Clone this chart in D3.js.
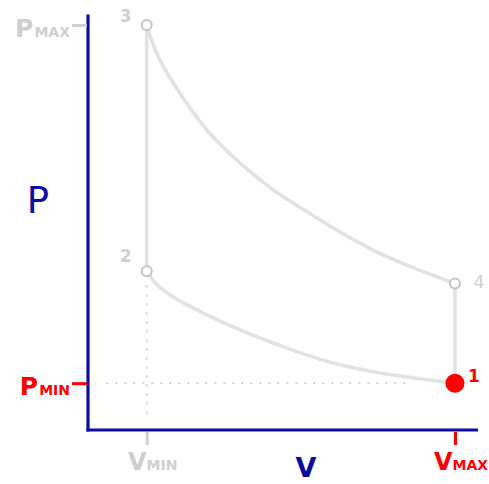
<!DOCTYPE html>
<html><head><meta charset="utf-8">
<script src="https://cdn.jsdelivr.net/npm/d3@7"></script>
<style>html,body{margin:0;padding:0;background:#fff;}svg{display:block;}</style>
</head><body>
<svg id="chart" width="489" height="484"></svg>
<script>
// ---- data (arbitrary units) ----
const vMin = 1.6, vMax = 10;
const pMin = 1.15, pMax = 9.95;
// state points 1..4
const stateIds = ["1", "2", "3", "4"];
const stateV = [10, 1.6, 1.6, 10];
const stateP = [1.15, 3.9, 9.95, 3.6];
// expansion curve 3 -> 4
const expV = [1.6, 1.87, 2.32, 3.24, 4.14, 5.04, 5.97, 6.87, 7.77, 8.69, 10];
const expP = [9.95, 9.26, 8.53, 7.37, 6.56, 5.90, 5.36, 4.86, 4.42, 4.05, 3.6];
// compression curve 2 -> 1
const cmpV = [1.6, 1.87, 2.32, 3.24, 4.14, 5.04, 5.97, 6.87, 7.77, 8.69, 10];
const cmpP = [3.9, 3.58, 3.27, 2.83, 2.46, 2.14, 1.84, 1.60, 1.43, 1.30, 1.15];
const pTickLabels = [["P", "MAX"], ["P", "MIN"]];
const vTickLabels = [["V", "MIN"], ["V", "MAX"]];
const axisTitles = ["P", "V"];

// ---- drawing ----
const svg = d3.select("#chart");
const x = d3.scaleLinear().domain([0, 10.6]).range([88, 477]);
const y = d3.scaleLinear().domain([0, 10.17]).range([430, 16]);

const blue = "#0c0ca3", red = "#ff0000", lgray = "#e2e2e2", tgray = "#cfcfcf";
const font = "'DejaVu Sans', Verdana, sans-serif";

// dotted guides
svg.append("line").attr("x1", x(0.5)).attr("x2", x(8.7)).attr("y1", y(pMin)).attr("y2", y(pMin))
  .attr("stroke", "#cfcfcf").attr("stroke-width", 2).attr("stroke-dasharray", "2,7");
svg.append("line").attr("x1", x(vMin)).attr("x2", x(vMin)).attr("y1", y(3.55)).attr("y2", y(0.25))
  .attr("stroke", "#cfcfcf").attr("stroke-width", 2).attr("stroke-dasharray", "2,7");

// cycle
const line = d3.line().x(d => x(d[0])).y(d => y(d[1])).curve(d3.curveCatmullRom.alpha(0.5));
const g = svg.append("g").attr("fill", "none").attr("stroke", lgray).attr("stroke-width", 3.6);
g.append("path").attr("d", line(d3.zip(expV, expP)));
g.append("path").attr("d", line(d3.zip(cmpV, cmpP)));
// isochoric segments 2-3 and 4-1
g.append("path").attr("d", d3.line()([[x(stateV[1]), y(stateP[1])], [x(stateV[2]), y(stateP[2])]]));
g.append("path").attr("d", d3.line()([[x(stateV[3]), y(stateP[3])], [x(stateV[0]), y(stateP[0])]]));

// axes
const yAxis = d3.axisLeft(y).tickValues([pMax, pMin]).tickSize(15).tickSizeOuter(0).tickFormat("");
const xAxis = d3.axisBottom(x).tickValues([vMin, vMax]).tickSize(14).tickSizeOuter(0).tickFormat("");
const ya = svg.append("g").attr("transform", "translate(88,0)").call(yAxis);
const xa = svg.append("g").attr("transform", "translate(0,430)").call(xAxis);
ya.select(".domain").attr("stroke", blue).attr("stroke-width", 3.2).attr("d", "M0,14.5V431.5");
xa.select(".domain").attr("stroke", blue).attr("stroke-width", 3.2).attr("d", "M86.5,0H478");
ya.selectAll(".tick line").attr("stroke", (d, i) => i === 0 ? tgray : red).attr("stroke-width", 3).attr("x2", -16).attr("x1", -1);
xa.selectAll(".tick line").attr("stroke", (d, i) => i === 0 ? tgray : red).attr("stroke-width", 3).attr("y1", 2).attr("y2", 15);

// tick labels
[pMax, pMin].forEach((p, i) => {
  const t = svg.append("text").attr("x", 70).attr("y", y(p) + 12).attr("text-anchor", "end")
    .attr("font-family", font).attr("font-weight", "bold")
    .attr("fill", i === 0 ? tgray : red);
  t.append("tspan").attr("font-size", 25).text(pTickLabels[i][0]);
  t.append("tspan").attr("font-size", 14).attr("dx", 1).text(pTickLabels[i][1]);
});
[vMin, vMax].forEach((v, i) => {
  const t = svg.append("text").attr("x", x(v) + 6).attr("y", 470).attr("text-anchor", "middle")
    .attr("font-family", font).attr("font-weight", "bold")
    .attr("fill", i === 0 ? tgray : red);
  t.append("tspan").attr("font-size", 24).text(vTickLabels[i][0]);
  t.append("tspan").attr("font-size", 14).text(vTickLabels[i][1]);
});

// axis titles
svg.append("text").attr("x", 38).attr("y", 213).attr("text-anchor", "middle")
  .attr("font-family", font).attr("font-size", 37).attr("fill", blue).text(axisTitles[0]);
svg.append("text").attr("x", 306).attr("y", 477).attr("text-anchor", "middle")
  .attr("font-family", font).attr("font-size", 27).attr("font-weight", "bold").attr("fill", blue).text(axisTitles[1]);

// state points
const labelOffsets = [[19, -1], [-21, -9], [-21, -3], [24, 5]];
stateIds.forEach((id, i) => {
  const cx = x(stateV[i]), cy = y(stateP[i]);
  if (i === 0) {
    svg.append("circle").attr("cx", cx).attr("cy", cy).attr("r", 9.5).attr("fill", red);
  } else {
    svg.append("circle").attr("cx", cx).attr("cy", cy).attr("r", 5)
      .attr("fill", "#fff").attr("stroke", "#c4c4c4").attr("stroke-width", 2);
  }
  svg.append("text").attr("x", cx + labelOffsets[i][0]).attr("y", cy + labelOffsets[i][1])
    .attr("text-anchor", "middle").attr("font-family", font)
    .attr("font-weight", i === 3 ? "normal" : "bold").attr("font-size", 17)
    .attr("fill", i === 0 ? red : tgray).text(id);
});
</script>
</body></html>
